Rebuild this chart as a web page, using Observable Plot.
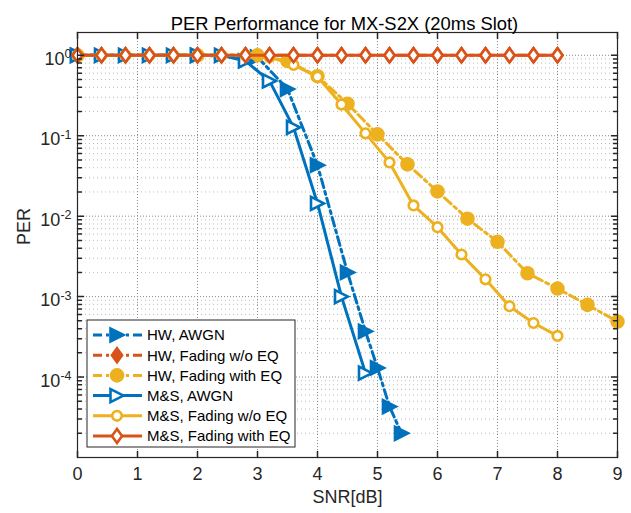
<!DOCTYPE html>
<html><head><meta charset="utf-8">
<script src="https://cdn.jsdelivr.net/npm/d3@7"></script>
<script src="https://cdn.jsdelivr.net/npm/@observablehq/plot@0.6"></script>
<style>body{margin:0;background:#fff}</style>
</head><body><div id="chart"></div>
<script>
// ---- data ----
const titleText = "PER Performance for MX-S2X (20ms Slot)";
const xLabel = "SNR[dB]";
const yLabel = "PER";

const hwAwgnSnr = [0, 2, 3, 3.5, 4.0, 4.5, 4.8, 5.0, 5.2, 5.4];
const hwAwgnPer = [1, 1, 0.95, 0.38, 0.043, 0.002, 3.7e-4, 1.3e-4, 4.3e-5, 2.0e-5];

const hwNoEqSnr = [0,0.4,0.8,1.2,1.6,2.0,2.4,2.8,3.2,3.6,4.0,4.4,4.8,5.2,5.6,6.0,6.4,6.8,7.2,7.6,8.0];
const hwNoEqPer = [1,1,1,1,1,1,1,1,1,1,1,1,1,1,1,1,1,1,1,1,1];

const hwEqSnr = [0, 2, 3, 3.5, 4.0, 4.5, 5.0, 5.5, 6.0, 6.5, 7.0, 7.5, 8.0, 8.5, 9.0];
const hwEqPer = [1, 1, 1, 0.85, 0.55, 0.25, 0.104, 0.044, 0.0203, 0.0093, 0.0048, 0.00195, 0.00126, 7.9e-4, 4.9e-4];

const msAwgnSnr = [0,0.4,0.8,1.2,1.6,2.0,2.4,2.8,3.2,3.6,4.0,4.4,4.8];
const msAwgnPer = [1,1,1,1,1,1,1,0.85,0.48,0.127,0.0144,1.0e-3,1.12e-4];

const msNoEqSnr = [0,0.4,0.8,1.2,1.6,2.0,2.4,2.8,3.2,3.6,4.0,4.4,4.8,5.2,5.6,6.0,6.4,6.8,7.2,7.6,8.0];
const msNoEqPer = [1,1,1,1,1,1,1,1,0.95,0.76,0.54,0.244,0.107,0.0466,0.0136,0.0073,0.00334,0.00164,7.6e-4,4.7e-4,3.25e-4];

const msEqSnr = [0,0.4,0.8,1.2,1.6,2.0,2.4,2.8,3.2,3.6,4.0,4.4,4.8,5.2,5.6,6.0,6.4,6.8,7.2,7.6,8.0];
const msEqPer = [1,1,1,1,1,1,1,1,1,1,1,1,1,1,1,1,1,1,1,1,1];

const seriesNames = ["HW, AWGN","HW, Fading w/o EQ","HW, Fading with EQ","M&S, AWGN","M&S, Fading w/o EQ","M&S, Fading with EQ"];

const xTicks = [0,1,2,3,4,5,6,7,8,9];
const xGrid = [1,2,3,4,5,6,7,8];
const yTicks = [1e-4,1e-3,1e-2,1e-1,1];
const yGrid = [1e-4,1e-3,1e-2,1e-1,1];
const yDecades = [1e-5,1e-4,1e-3,1e-2,1e-1,1];
const yMinorMult = [2,3,4,5,6,7,8,9];

// ---- styles ----
const BLUE="#0072BD", ORANGE="#D95319", YELLOW="#EDB120", AX="#262626";
const DASHDOT="9,4,3,4";
const FONT = "'Liberation Sans', Arial, sans-serif";
const triRight = {draw(ctx,size){const r=Math.sqrt(size/Math.PI); ctx.moveTo(r,0); ctx.lineTo(-r,-r); ctx.lineTo(-r,r); ctx.closePath();}};
const diamond = {draw(ctx,size){const r=Math.sqrt(size/Math.PI); ctx.moveTo(0,-r); ctx.lineTo(0.72*r,0); ctx.lineTo(0,r); ctx.lineTo(-0.72*r,0); ctx.closePath();}};
const circle = {draw(ctx,size){const r=Math.sqrt(size/Math.PI); ctx.moveTo(r,0); ctx.arc(0,0,r,0,2*Math.PI);}};
const tickShape = {draw(ctx,l){ctx.moveTo(0,0); ctx.lineTo(0,-l);}};

const series = [
  {name: seriesNames[0], snr: hwAwgnSnr, per: hwAwgnPer, color: BLUE, dash: DASHDOT, sym: triRight, r: 6.5, filled: true},
  {name: seriesNames[1], snr: hwNoEqSnr, per: hwNoEqPer, color: ORANGE, dash: DASHDOT, sym: diamond, r: 7, filled: true},
  {name: seriesNames[2], snr: hwEqSnr, per: hwEqPer, color: YELLOW, dash: DASHDOT, sym: circle, r: 6, filled: true},
  {name: seriesNames[3], snr: msAwgnSnr, per: msAwgnPer, color: BLUE, dash: null, sym: triRight, r: 6.5, filled: false},
  {name: seriesNames[4], snr: msNoEqSnr, per: msNoEqPer, color: YELLOW, dash: null, sym: circle, r: 4.8, filled: false},
  {name: seriesNames[5], snr: msEqSnr, per: msEqPer, color: ORANGE, dash: null, sym: diamond, r: 7, filled: false}
];
const rowsOf = s => s.snr.map((x,i)=>({snr:x, per:s.per[i]}));

const yMinor = yDecades.flatMap(d => yMinorMult.map(m => m*d)).filter(v => v < 1.92);

const seriesMarks = series.flatMap(s => [
  Plot.line(rowsOf(s), {x:"snr", y:"per", stroke:s.color, strokeWidth:3, strokeDasharray:s.dash ?? undefined, strokeLinejoin:"round"}),
  Plot.dot(rowsOf(s), {x:"snr", y:"per", symbol:s.sym, r:s.r, stroke:s.color, strokeWidth:2.6, fill: s.filled ? s.color : "white"})
]);

const svg = Plot.plot({
  width: 631, height: 513,
  marginLeft: 77, marginRight: 14, marginTop: 32, marginBottom: 56,
  style: {fontFamily: FONT, fontSize: "18px", color: AX, background: "white"},
  x: {domain: [0, 9], axis: null},
  y: {type: "log", domain: [1e-5, 1.92], axis: null},
  marks: [
    Plot.ruleY(yMinor, {y: d=>d, stroke:"#bdbdbd", strokeWidth:1, strokeDasharray:"1,3"}),
    Plot.ruleY(yGrid, {y: d=>d, stroke:"#8a8a8a", strokeWidth:1, strokeDasharray:"1,2"}),
    Plot.ruleX(xGrid, {x: d=>d, stroke:"#8a8a8a", strokeWidth:1, strokeDasharray:"1,2"}),
    ...seriesMarks,
    Plot.frame({stroke: AX, strokeWidth: 1.2}),
    Plot.vector(xTicks, {x: d=>d, frameAnchor:"bottom", length:6, anchor:"start", rotate:0, shape: tickShape, stroke: AX}),
    Plot.vector(xTicks, {x: d=>d, frameAnchor:"top", length:6, anchor:"start", rotate:180, shape: tickShape, stroke: AX}),
    Plot.vector(yTicks, {y: d=>d, frameAnchor:"left", length:6, anchor:"start", rotate:90, shape: tickShape, stroke: AX}),
    Plot.vector(yTicks, {y: d=>d, frameAnchor:"right", length:6, anchor:"start", rotate:-90, shape: tickShape, stroke: AX}),
    Plot.vector(yMinor, {y: d=>d, frameAnchor:"left", length:4, anchor:"start", rotate:90, shape: tickShape, stroke: AX}),
    Plot.vector(yMinor, {y: d=>d, frameAnchor:"right", length:4, anchor:"start", rotate:-90, shape: tickShape, stroke: AX}),
    Plot.text(xTicks, {x: d=>d, text: d => String(d), frameAnchor:"bottom", dy: 22, fontSize: 18, fill: AX}),
    Plot.text(yTicks, {y: d=>d, text: d => String(Math.round(Math.log10(d))), frameAnchor:"left", dx: -6, dy: 4, textAnchor:"end", fontSize: 18, fill: AX}),
    Plot.text([xLabel], {frameAnchor:"bottom", dy: 45, fontSize: 18, fill: AX}),
    Plot.text([yLabel], {frameAnchor:"left", dx: -53, rotate: -90, fontSize: 18, fill: AX}),
    Plot.text([titleText], {frameAnchor:"top", dy: -16, dx: -3, fontSize: 18.4, fill: "#000"})
  ]
});

// superscript exponents on the y tick labels (the only end-anchored text mark)
d3.select(svg).selectAll('g[text-anchor="end"] text').each(function(){
  const t = d3.select(this);
  const e = t.text();
  t.text("10");
  t.append("tspan").attr("dy", "-0.55em").attr("font-size", "12.5px").text(e);
});

// legend
const lg = d3.select(svg).append("g").attr("text-anchor", "start").attr("font-family", FONT);
const lx = 87, ly = 320, lw = 208, lh = 127;
lg.append("rect").attr("x", lx).attr("y", ly).attr("width", lw).attr("height", lh)
  .attr("fill", "white").attr("stroke", AX).attr("stroke-width", 1);
series.forEach((s, i) => {
  const cy = ly + 15 + i * 20.2;
  lg.append("line").attr("x1", lx + 6).attr("x2", lx + 55).attr("y1", cy).attr("y2", cy)
    .attr("stroke", s.color).attr("stroke-width", 3).attr("stroke-dasharray", s.dash);
  lg.append("path").attr("transform", `translate(${lx + 30},${cy})`)
    .attr("d", d3.symbol().type(s.sym).size(Math.PI * s.r * s.r)())
    .attr("stroke", s.color).attr("stroke-width", 2.6).attr("fill", s.filled ? s.color : "white");
  lg.append("text").attr("x", lx + 60).attr("y", cy).attr("dy", "0.36em")
    .attr("text-anchor", "start").attr("font-size", 15).attr("fill", "#000").text(s.name);
});

document.getElementById("chart").appendChild(svg);
</script>
</body></html>
